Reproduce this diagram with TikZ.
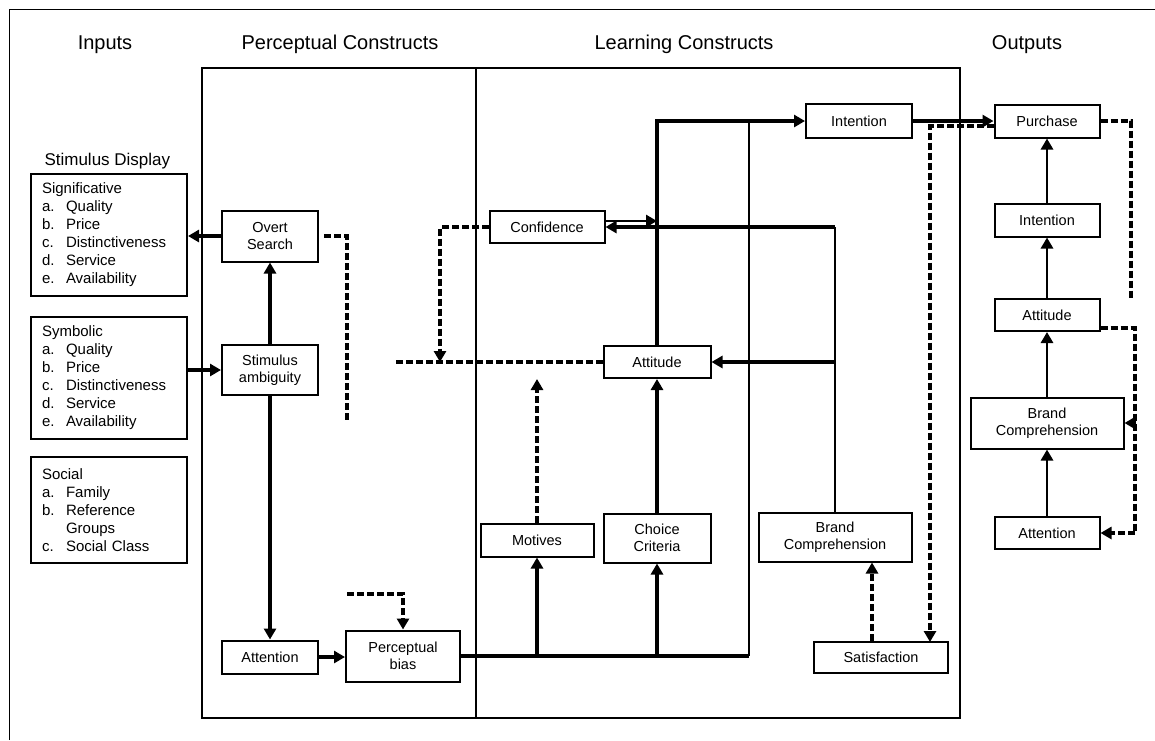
\documentclass[tikz,border=0pt]{standalone}
\usepackage{fontspec}
\setmainfont{Liberation Sans}
\usetikzlibrary{arrows.meta}

\newcommand\inputitem[2]{\makebox[24pt][l]{#1}#2}

\tikzset{
  box/.style={draw, line width=2pt, inner sep=0pt, align=center, font=\fontsize{14.5}{17.5}\selectfont},
  listbox/.style={draw, line width=2pt, anchor=north west, inner xsep=11pt, inner ysep=0pt, text width=134pt, align=left, font=\fontsize{15}{18}\selectfont},
  title/.style={anchor=base, font=\fontsize{20}{24}\selectfont},
  heavy/.style={line width=4.2pt},
  medium/.style={line width=2.9pt},
  dashline/.style={line width=3.1pt, dash pattern=on 7pt off 3pt},
  tip/.style={-{Triangle[length=11pt,width=12pt]}},
}

\begin{document}
\begin{tikzpicture}[x=1pt,y=-1pt]
	\useasboundingbox (0,0) rectangle (1155,740);

	% Frames
	\draw[line width=1.8pt] (9.5,740) -- (9.5,9.5) -- (1155,9.5);
	\draw[line width=1.8pt] (202,68) rectangle (476,718);
	\draw[line width=1.8pt] (476,68) rectangle (960,718);

	% Titles
	\node[title] (inputs) at (105,49) {Inputs};
	\node[title] (percept) at (340,49) {Perceptual Constructs};
	\node[title] (learn) at (684,49) {Learning Constructs};
	\node[title] (outputs) at (1027,49) {Outputs};
	\node[anchor=base west, font=\fontsize{17}{20}\selectfont] (stimdisp) at (41,165) {Stimulus Display};

	% Inputs
	\node[listbox, minimum height=122pt] (signif) at (30,173) {Significative\\ \inputitem{a.}{Quality}\\ \inputitem{b.}{Price}\\ \inputitem{c.}{Distinctiveness}\\ \inputitem{d.}{Service}\\ \inputitem{e.}{Availability}};
	\node[listbox, minimum height=122pt] (symbol) at (30,316) {Symbolic\\ \inputitem{a.}{Quality}\\ \inputitem{b.}{Price}\\ \inputitem{c.}{Distinctiveness}\\ \inputitem{d.}{Service}\\ \inputitem{e.}{Availability}};
	\node[listbox, minimum height=106pt] (social) at (30,456) {Social\\ \inputitem{a.}{Family}\\ \inputitem{b.}{Reference}\\ \hspace*{24pt}Groups\\ \inputitem{c.}{Social Class}};

	% Perceptual constructs
	\node[box, minimum width=96pt, minimum height=51pt] (overt) at (270,236) {Overt\\Search};
	\node[box, minimum width=96pt, minimum height=50pt] (ambig) at (270,370) {Stimulus\\ambiguity};
	\node[box, minimum width=96pt, minimum height=33pt] (attn) at (270,657) {Attention};
	\node[box, minimum width=114pt, minimum height=51pt] (bias) at (403,656) {Perceptual\\bias};

	% Learning constructs
	\node[box, minimum width=115pt, minimum height=32pt] (conf) at (547,227) {Confidence};
	\node[box, minimum width=107pt, minimum height=32pt] (att) at (657,362) {Attitude};
	\node[box, minimum width=106pt, minimum height=34pt] (intent) at (859,121) {Intention};
	\node[box, minimum width=113pt, minimum height=33pt] (motives) at (537,540) {Motives};
	\node[box, minimum width=107pt, minimum height=49pt] (choice) at (657,538) {Choice\\Criteria};
	\node[box, minimum width=153pt, minimum height=49pt] (brand) at (835,537) {Brand\\Comprehension};
	\node[box, minimum width=134pt, minimum height=31pt] (satis) at (881,657) {Satisfaction};

	% Outputs
	\node[box, minimum width=105pt, minimum height=33pt] (purchase) at (1047,121) {Purchase};
	\node[box, minimum width=105pt, minimum height=33pt] (ointent) at (1047,220) {Intention};
	\node[box, minimum width=105pt, minimum height=32pt] (oatt) at (1047,315) {Attitude};
	\node[box, minimum width=153pt, minimum height=51pt] (obrand) at (1047,423) {Brand\\Comprehension};
	\node[box, minimum width=105pt, minimum height=32pt] (oattn) at (1047,533) {Attention};

	% Loose ends
	\coordinate (ovend) at (347,420);
	\coordinate (biasin) at (347,594);
	\coordinate (jn) at (749,656);
	\coordinate (jt) at (749,121);
	\coordinate (cfdrop) at (440,362);
	\coordinate (attend) at (395,362);
	\coordinate (sdrop) at (930,642);
	\coordinate (pend) at (1131,300);
	\coordinate (rside) at (1135,328);

	% Perceptual links
	\draw[heavy, tip] (overt.west) -- (overt.west -| signif.east);
	\draw[heavy, tip] (ambig.west -| symbol.east) -- (ambig.west);
	\draw[heavy, tip] (ambig.north) -- (overt.south);
	\draw[heavy, tip] (ambig.south) -- (attn.north);
	\draw[heavy, tip] (attn.east) -- (attn.east -| bias.west);
	\draw[dashline] ([xshift=5pt]overt.east) -| (ovend);
	\draw[dashline, tip] (biasin) -| (bias.north);

	% Learning links
	\draw[heavy] (bias.east) -- (jn);
	\draw[medium] (jn) -- (jt);
	\draw[heavy, tip] (motives.south |- jn) -- (motives.south);
	\draw[heavy, tip] (choice.south |- jn) -- (choice.south);
	\draw[heavy, tip] (choice.north) -- (att.south);
	\draw[heavy, tip] (att.north) |- (intent.west);
	\draw[medium] (brand.north) -- (brand.north |- conf.east);
	\draw[heavy, tip] (brand.north |- conf.east) -- (conf.east);
	\draw[medium, tip] ([yshift=6pt]conf.east) -- ([yshift=6pt]conf.east -| att.north);
	\draw[heavy, tip] (brand.north |- att.east) -- (att.east);
	\draw[dashline, tip] (conf.west) -| (cfdrop);
	\draw[dashline] (att.west) -- (attend);
	\draw[dashline, tip] (motives.north) -- (motives.north |- att.south);
	\draw[dashline, tip] ([xshift=-9pt]satis.north) -- ([xshift=-9pt]satis.north |- brand.south);

	% Output links
	\draw[heavy, tip] (intent.east) -- (purchase.west);
	\draw[dashline, tip] ([yshift=-5pt]purchase.west) -| (sdrop);
	\draw[medium, tip] (oattn.north) -- (obrand.south);
	\draw[medium, tip] (obrand.north) -- (oatt.south);
	\draw[medium, tip] (oatt.north) -- (ointent.south);
	\draw[medium, tip] (ointent.north) -- (purchase.south);
	\draw[dashline] (purchase.east) -| (pend);
	\draw[dashline, tip] ([yshift=-13pt]oatt.east) -| (rside |- oattn.east) -- (oattn.east);
	\draw[dashline, tip] (rside |- obrand.east) -- (obrand.east);
\end{tikzpicture}
\end{document}
